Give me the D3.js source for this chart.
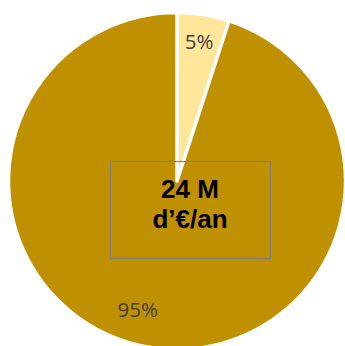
<!DOCTYPE html>
<html>
<head>
<meta charset="utf-8">
<script src="https://cdn.jsdelivr.net/npm/d3@7"></script>
<style>
  html, body { margin: 0; padding: 0; background: #fff; }
  svg { display: block; }
</style>
</head>
<body>
<svg id="chart" width="345" height="346"></svg>
<script>
// Share of the annual budget
const categories = ["Part A", "Part B"];
const values = [5, 95];
const valueLabels = ["5%", "95%"];
const colors = ["#FFE699", "#BF9000"];
const centerLines = ["24 M", "d\u2019\u20ac/an"];

const svg = d3.select("#chart");
const cx = 177, cy = 181, r = 168.5;

const g = svg.append("g").attr("transform", `translate(${cx},${cy})`);

const pie = d3.pie().sort(null).value(d => d.value);
const data = pie(categories.map((c, i) => ({ name: c, value: values[i], label: valueLabels[i], color: colors[i] })));

const arc = d3.arc().innerRadius(0).outerRadius(r);

g.selectAll("path.slice")
  .data(data)
  .join("path")
  .attr("class", "slice")
  .attr("d", arc)
  .attr("fill", d => d.data.color)
  .attr("stroke", "#fff")
  .attr("stroke-width", 3.5)
  .attr("stroke-linejoin", "round");

// value labels: placed inside each slice, the larger one nudged toward its lower-left
const labelRadius = [141, 134];
const labelTurn = [0, 0.14];
g.selectAll("text.value")
  .data(data)
  .join("text")
  .attr("class", "value")
  .attr("x", (d, i) => {
    const a = (d.startAngle + d.endAngle) / 2 + labelTurn[i];
    return labelRadius[i] * Math.sin(a);
  })
  .attr("y", (d, i) => {
    const a = (d.startAngle + d.endAngle) / 2 + labelTurn[i];
    return -labelRadius[i] * Math.cos(a);
  })
  .attr("dy", "0.36em")
  .attr("text-anchor", "middle")
  .attr("font-family", "'Open Sans', sans-serif")
  .attr("font-size", 20.5)
  .attr("fill", "#404040")
  .text(d => d.data.label);

// centre annotation box
svg.append("rect")
  .attr("x", 110.5).attr("y", 161.5)
  .attr("width", 160).attr("height", 97)
  .attr("fill", "none")
  .attr("stroke", "#808080")
  .attr("stroke-width", 1.2);

svg.append("text")
  .attr("x", 190)
  .attr("y", 198)
  .attr("text-anchor", "middle")
  .attr("font-family", "'Liberation Sans', Arial, sans-serif")
  .attr("font-weight", "bold")
  .attr("font-size", 26)
  .attr("fill", "#000")
  .selectAll("tspan")
  .data(centerLines)
  .join("tspan")
  .attr("x", 190)
  .attr("dy", (d, i) => i === 0 ? 0 : 30)
  .text(d => d);
</script>
</body>
</html>
